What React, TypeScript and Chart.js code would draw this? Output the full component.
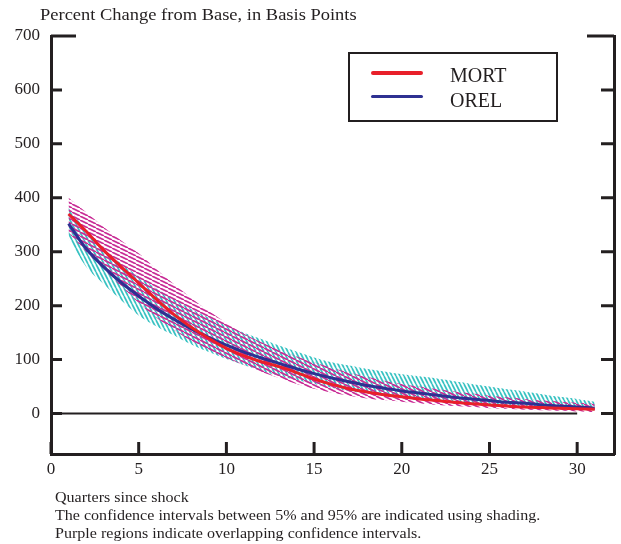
import React, { useEffect, useRef } from "react";
import { Chart, registerables } from "chart.js";
Chart.register(...registerables);

// ---- data ----
const quarters = [1,2,3,4,5,6,7,8,9,10,11,12,13,14,15,16,17,18,19,20,21,22,23,24,25,26,27,28,29,30,31];
const mort = [370,338,303,272,242,212,184,160,139,121,107,96,87,76,64,54,46,40,35,31,27,24,21,18,16,14,12,11,10,9,8];
const orel = [352,306,272,243,218,195,175,157,141,127,114,103,93,83,74,66,59,52,47,42,38,34,30,27,24,21,19,16,14,12,10];
const mortUpper = [400,373,346,321,297,268,240,214,190,168,148,132,118,106,95,85,76,68,61,55,50,45,41,37,33,30,27,24,22,20,18];
const mortLower = [335,300,268,236,205,178,155,135,118,103,90,77,66,55,46,39,33,28,25,22,19,16,14,12,10,9,7,6,5,4,3];
const orelUpper = [382,340,305,278,254,232,212,194,178,163,150,138,126,115,104,95,89,83,78,73,69,65,60,55,50,45,41,36,31,27,22];
const orelLower = [325,272,240,210,182,162,145,128,114,101,90,79,70,62,55,48,42,37,33,29,26,23,20,18,16,14,12,10,8,7,6];
const zeroLineX = [0, 30];
const yTickValues = [0,100,200,300,400,500,600,700];
const xTickValues = [0,5,10,15,20,25,30];

const INK = "#231f20";
const RED = "#e8202a";
const BLUE = "#2e3192";
const MAGENTA = "#c92d96";
const CYAN = "#38c2c2";

function pts(vals: number[]) {
  return vals.map((v, i) => ({ x: quarters[i], y: v }));
}

function hatch(color: string, w: number, h: number, lw: number): CanvasPattern | string {
  const c = document.createElement("canvas");
  c.width = w; c.height = h;
  const g = c.getContext("2d");
  if (!g) return color;
  g.strokeStyle = color;
  g.lineWidth = lw;
  for (const off of [-w, 0, w]) {
    g.beginPath();
    g.moveTo(off, 0);
    g.lineTo(off + w, h);
    g.stroke();
  }
  return g.createPattern(c, "repeat") || color;
}

const inwardTicks = {
  id: "inwardTicks",
  afterDraw(chart: any) {
    const { ctx, chartArea, scales } = chart;
    const { left, right, bottom } = chartArea;
    ctx.save();
    ctx.strokeStyle = INK;
    ctx.lineWidth = 3;
    for (const v of yTickValues) {
      const py = scales.y.getPixelForValue(v);
      const lenL = v === 700 ? 25 : 11;
      const lenR = v === 700 ? 27 : 13;
      ctx.beginPath();
      ctx.moveTo(left, py); ctx.lineTo(left + lenL, py);
      ctx.moveTo(right, py); ctx.lineTo(right - lenR, py);
      ctx.stroke();
    }
    for (const v of xTickValues) {
      const px = scales.x.getPixelForValue(v);
      ctx.beginPath();
      ctx.moveTo(px, bottom); ctx.lineTo(px, bottom - 12);
      ctx.stroke();
    }
    ctx.restore();
  },
};

const serif = "'Liberation Serif', 'Times New Roman', serif";

export default function App() {
  const ref = useRef<HTMLCanvasElement | null>(null);
  useEffect(() => {
    if (!ref.current) return;
    const magentaHatch = hatch(MAGENTA, 8, 4, 1.7);
    const cyanHatch = hatch(CYAN, 4, 8, 1.7);
    const band = { borderWidth: 0, pointRadius: 0, tension: 0.35, order: 3 };
    const chart = new Chart(ref.current, {
      type: "line",
      data: {
        datasets: [
          { label: "MORT", data: pts(mort), borderColor: RED, borderWidth: 3, pointRadius: 0, fill: false, tension: 0.35, order: 0 },
          { label: "OREL", data: pts(orel), borderColor: BLUE, borderWidth: 3, pointRadius: 0, fill: false, tension: 0.35, order: 0 },
          { label: "zero", data: zeroLineX.map((x) => ({ x, y: 0 })), borderColor: INK, borderWidth: 2, pointRadius: 0, fill: false, order: 1 },
          { label: "MORT upper", data: pts(mortUpper), fill: "+1", backgroundColor: magentaHatch as any, borderColor: "rgba(0,0,0,0)", ...band },
          { label: "MORT lower", data: pts(mortLower), fill: false, borderColor: "rgba(0,0,0,0)", ...band },
          { label: "OREL upper", data: pts(orelUpper), fill: "+1", backgroundColor: cyanHatch as any, borderColor: "rgba(0,0,0,0)", ...band },
          { label: "OREL lower", data: pts(orelLower), fill: false, borderColor: "rgba(0,0,0,0)", ...band },
        ],
      },
      options: {
        responsive: false,
        animation: false,
        events: [],
        layout: { padding: { top: 36, left: 0, right: 0, bottom: 0 } },
        plugins: { legend: { display: false }, tooltip: { enabled: false }, title: { display: false } },
        scales: {
          x: {
            type: "linear",
            min: 0,
            max: 32.1,
            grid: { display: false, drawTicks: false },
            border: { display: true, color: INK, width: 3 },
            ticks: {
              stepSize: 5,
              includeBounds: false,
              maxRotation: 0,
              autoSkip: false,
              padding: 5,
              color: INK,
              font: { family: serif, size: 17 },
              callback: (v: any) => (xTickValues.includes(Number(v)) ? String(v) : ""),
            },
            afterFit: (s: any) => { s.height = 90; },
          },
          y: {
            type: "linear",
            min: -75,
            max: 700,
            grid: { display: false, drawTicks: false },
            border: { display: true, color: INK, width: 3 },
            ticks: {
              stepSize: 100,
              includeBounds: false,
              padding: 11,
              color: INK,
              font: { family: serif, size: 17 },
              callback: (v: any) => (yTickValues.includes(Number(v)) ? String(v) : ""),
            },
            afterFit: (s: any) => { s.width = 51; },
          },
          y2: {
            type: "linear",
            position: "right",
            min: -75,
            max: 700,
            grid: { display: false, drawTicks: false },
            border: { display: true, color: INK, width: 3 },
            ticks: { display: false },
            afterFit: (s: any) => { s.width = 7; },
          },
        },
      },
      plugins: [inwardTicks],
    } as any);
    return () => chart.destroy();
  }, []);

  const abs = (o: any) => ({ position: "absolute", ...o } as React.CSSProperties);
  const text = { fontFamily: serif, color: INK, whiteSpace: "nowrap", transformOrigin: "left center", lineHeight: "20px" };

  return (
    <div style={abs({ left: 0, top: 0, width: 621, height: 544, background: "#fff", overflow: "hidden" })}>
      <canvas ref={ref} width={621} height={544} style={abs({ left: 0, top: 0, width: 621, height: 544 })} />
      <div style={abs({ ...text, left: 40, top: 5, fontSize: 16.5, transform: "scaleX(1.12)" })}>
        Percent Change from Base, in Basis Points
      </div>
      <div style={abs({ left: 348, top: 52, width: 210, height: 70, border: `2px solid ${INK}`, boxSizing: "border-box" })} />
      <div style={abs({ left: 371, top: 71, width: 52, height: 3.5, background: RED, borderRadius: 2 })} />
      <div style={abs({ left: 371, top: 94.5, width: 52, height: 3.5, background: BLUE, borderRadius: 2 })} />
      <div style={abs({ ...text, left: 450, top: 64.5, fontSize: 20 })}>MORT</div>
      <div style={abs({ ...text, left: 450, top: 89.5, fontSize: 20 })}>OREL</div>
      <div style={abs({ ...text, left: 55, top: 488, fontSize: 15, transform: "scaleX(1.07)", lineHeight: "18px" })}>
        Quarters since shock
        <br />
        The confidence intervals between 5% and 95% are indicated using shading.
        <br />
        Purple regions indicate overlapping confidence intervals.
      </div>
    </div>
  );
}
